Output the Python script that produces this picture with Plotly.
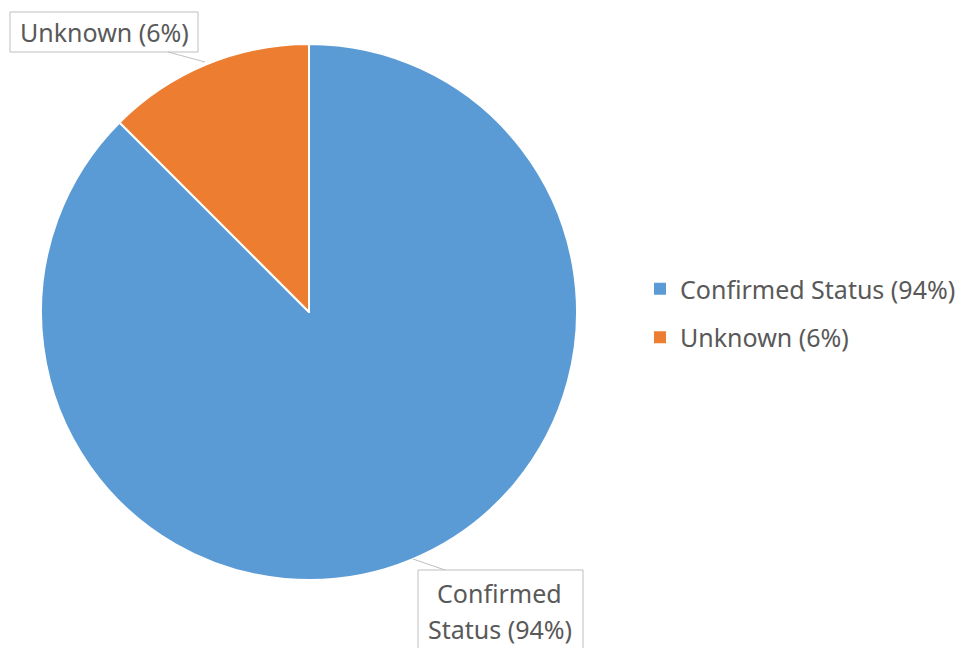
import plotly.graph_objects as go

# page body has an 8px margin, so the figure is drawn at (8, 8)
OFF = 8
W, H = 964 - OFF, 648 - OFF
labels = ["Confirmed Status (94%)", "Unknown (6%)"]
values = [87.5, 12.5]
colors = ["#5B9BD5", "#ED7D31"]
callout_text_unknown = "Unknown (6%)"
callout_text_confirmed = ["Confirmed", "Status (94%)"]

FONT = "Noto Sans"
FS = 25
GREY = "#595959"
BOX = "#BFBFBF"

def px(x):
    return (x - OFF) / W

def py(y):
    return 1 - (y - OFF) / H

fig = go.Figure()
# main pie (legend entries provided by per-label legend groups below)
fig.add_trace(go.Pie(
    labels=labels, values=values, sort=False, direction="clockwise", rotation=0,
    marker=dict(colors=colors, line=dict(color="white", width=2)),
    textinfo="none", hoverinfo="label+percent", showlegend=False,
    domain=dict(x=[px(41), px(577)], y=[py(580), py(44)]),
))
# one legend group per label so the legend rows get the reference spacing
for i, (lab, val, col) in enumerate(zip(labels, values, colors)):
    fig.add_trace(go.Pie(
        labels=[lab], values=[val], marker=dict(colors=[col]),
        textinfo="none", hoverinfo="skip", legendgroup=f"g{i}", showlegend=True,
        domain=dict(x=[0, 0.00001], y=[0, 0.00001]),
    ))

shapes = [
    dict(type="rect", xref="paper", yref="paper", x0=px(10), x1=px(198), y0=py(52), y1=py(12),
         line=dict(color=BOX, width=1), fillcolor="white", layer="above"),
    dict(type="line", xref="paper", yref="paper", x0=px(168), y0=py(52), x1=px(205), y1=py(62),
         line=dict(color=BOX, width=1)),
    dict(type="rect", xref="paper", yref="paper", x0=px(418), x1=px(583), y0=py(670), y1=py(570),
         line=dict(color=BOX, width=1), fillcolor="white", layer="above"),
    dict(type="line", xref="paper", yref="paper", x0=px(413), y0=py(559), x1=px(445), y1=py(570),
         line=dict(color=BOX, width=1)),
]

annotations = [
    dict(text=callout_text_unknown, xref="paper", yref="paper", x=px(104), y=py(32),
         xanchor="center", yanchor="middle", showarrow=False,
         font=dict(family=FONT, size=FS, color=GREY)),
    dict(text=callout_text_confirmed[0], xref="paper", yref="paper", x=px(500), y=py(593),
         xanchor="center", yanchor="middle", showarrow=False,
         font=dict(family=FONT, size=FS, color=GREY)),
    dict(text=callout_text_confirmed[1], xref="paper", yref="paper", x=px(500), y=py(629),
         xanchor="center", yanchor="middle", showarrow=False,
         font=dict(family=FONT, size=FS, color=GREY)),
]

fig.update_layout(
    width=W, height=H,
    margin=dict(l=0, r=0, t=0, b=0),
    paper_bgcolor="white", plot_bgcolor="white",
    showlegend=True,
    legend=dict(x=px(640), y=py(313), xanchor="left", yanchor="middle",
                font=dict(family=FONT, size=FS, color=GREY),
                traceorder="grouped", tracegroupgap=13),
    shapes=shapes, annotations=annotations,
)

fig.write_html("out.html")
